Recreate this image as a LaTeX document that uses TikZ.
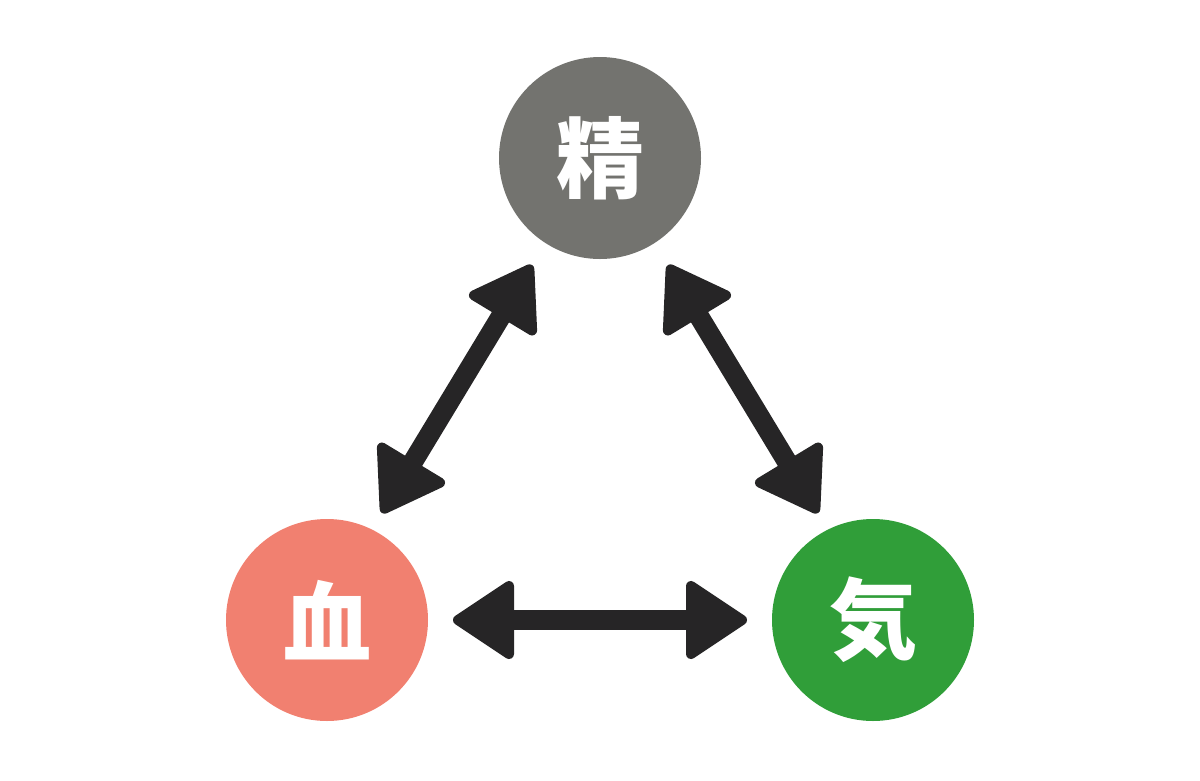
\documentclass[tikz,border=0pt]{standalone}
\usepackage{fontspec}
\newfontfamily\cjk{Noto Sans CJK JP}
\definecolor{cgray}{RGB}{115,115,111}
\definecolor{cred}{RGB}{241,128,112}
\definecolor{cgreen}{RGB}{48,158,57}
\definecolor{carrow}{RGB}{38,37,38}
\tikzset{
  circ/.style={circle, minimum size=202pt, inner sep=0pt, text=white, font=\cjk\bfseries\fontsize{88}{88}\selectfont},
  shaft/.style={draw=carrow, line width=20pt},
  head/.style={fill=carrow, draw=carrow, line width=10pt, line join=round}
}
\newcommand{\dblarrow}[2]{%
  \path let \p1=(#1), \p2=(#2), \n1={atan2(\y2-\y1,\x2-\x1)} in
    [shaft] ($(#1)!50pt!(#2)$) -- ($(#2)!50pt!(#1)$)
    [head] ($(#1)!5pt!(#2)$) -- ($(#1)!56pt!(#2)!34pt!90:(#2)$) -- ($(#1)!56pt!(#2)!34pt!-90:(#2)$) -- cycle
    [head] ($(#2)!5pt!(#1)$) -- ($(#2)!56pt!(#1)!34pt!90:(#1)$) -- ($(#2)!56pt!(#1)!34pt!-90:(#1)$) -- cycle;
}
\usetikzlibrary{calc}
\begin{document}
\begin{tikzpicture}[x=1pt,y=-1pt]
\useasboundingbox (0,0) rectangle (1200,780);
\node[circ, fill=cgray] (sei) at (600,158) {精};
\node[circ, fill=cred] (ketsu) at (327,620) {血};
\node[circ, fill=cgreen] (ki) at (873,620) {気};
\coordinate (a1) at (382,513);
\coordinate (a2) at (532,265);
\coordinate (b1) at (668,265);
\coordinate (b2) at (818,513);
\coordinate (c1) at (453,620);
\coordinate (c2) at (747,620);
\draw[shaft] ($(a1)!50pt!(a2)$) -- ($(a2)!50pt!(a1)$);
\draw[shaft] ($(b1)!50pt!(b2)$) -- ($(b2)!50pt!(b1)$);
\draw[shaft] ($(c1)!50pt!(c2)$) -- ($(c2)!50pt!(c1)$);
\foreach \p/\q in {a1/a2,a2/a1,b1/b2,b2/b1,c1/c2,c2/c1}{
  \filldraw[head] ($(\p)!5pt!(\q)$) -- ($(\p)!56pt!(\q)!34pt!90:(\q)$) -- ($(\p)!56pt!(\q)!34pt!-90:(\q)$) -- cycle;
}
\end{tikzpicture}
\end{document}
